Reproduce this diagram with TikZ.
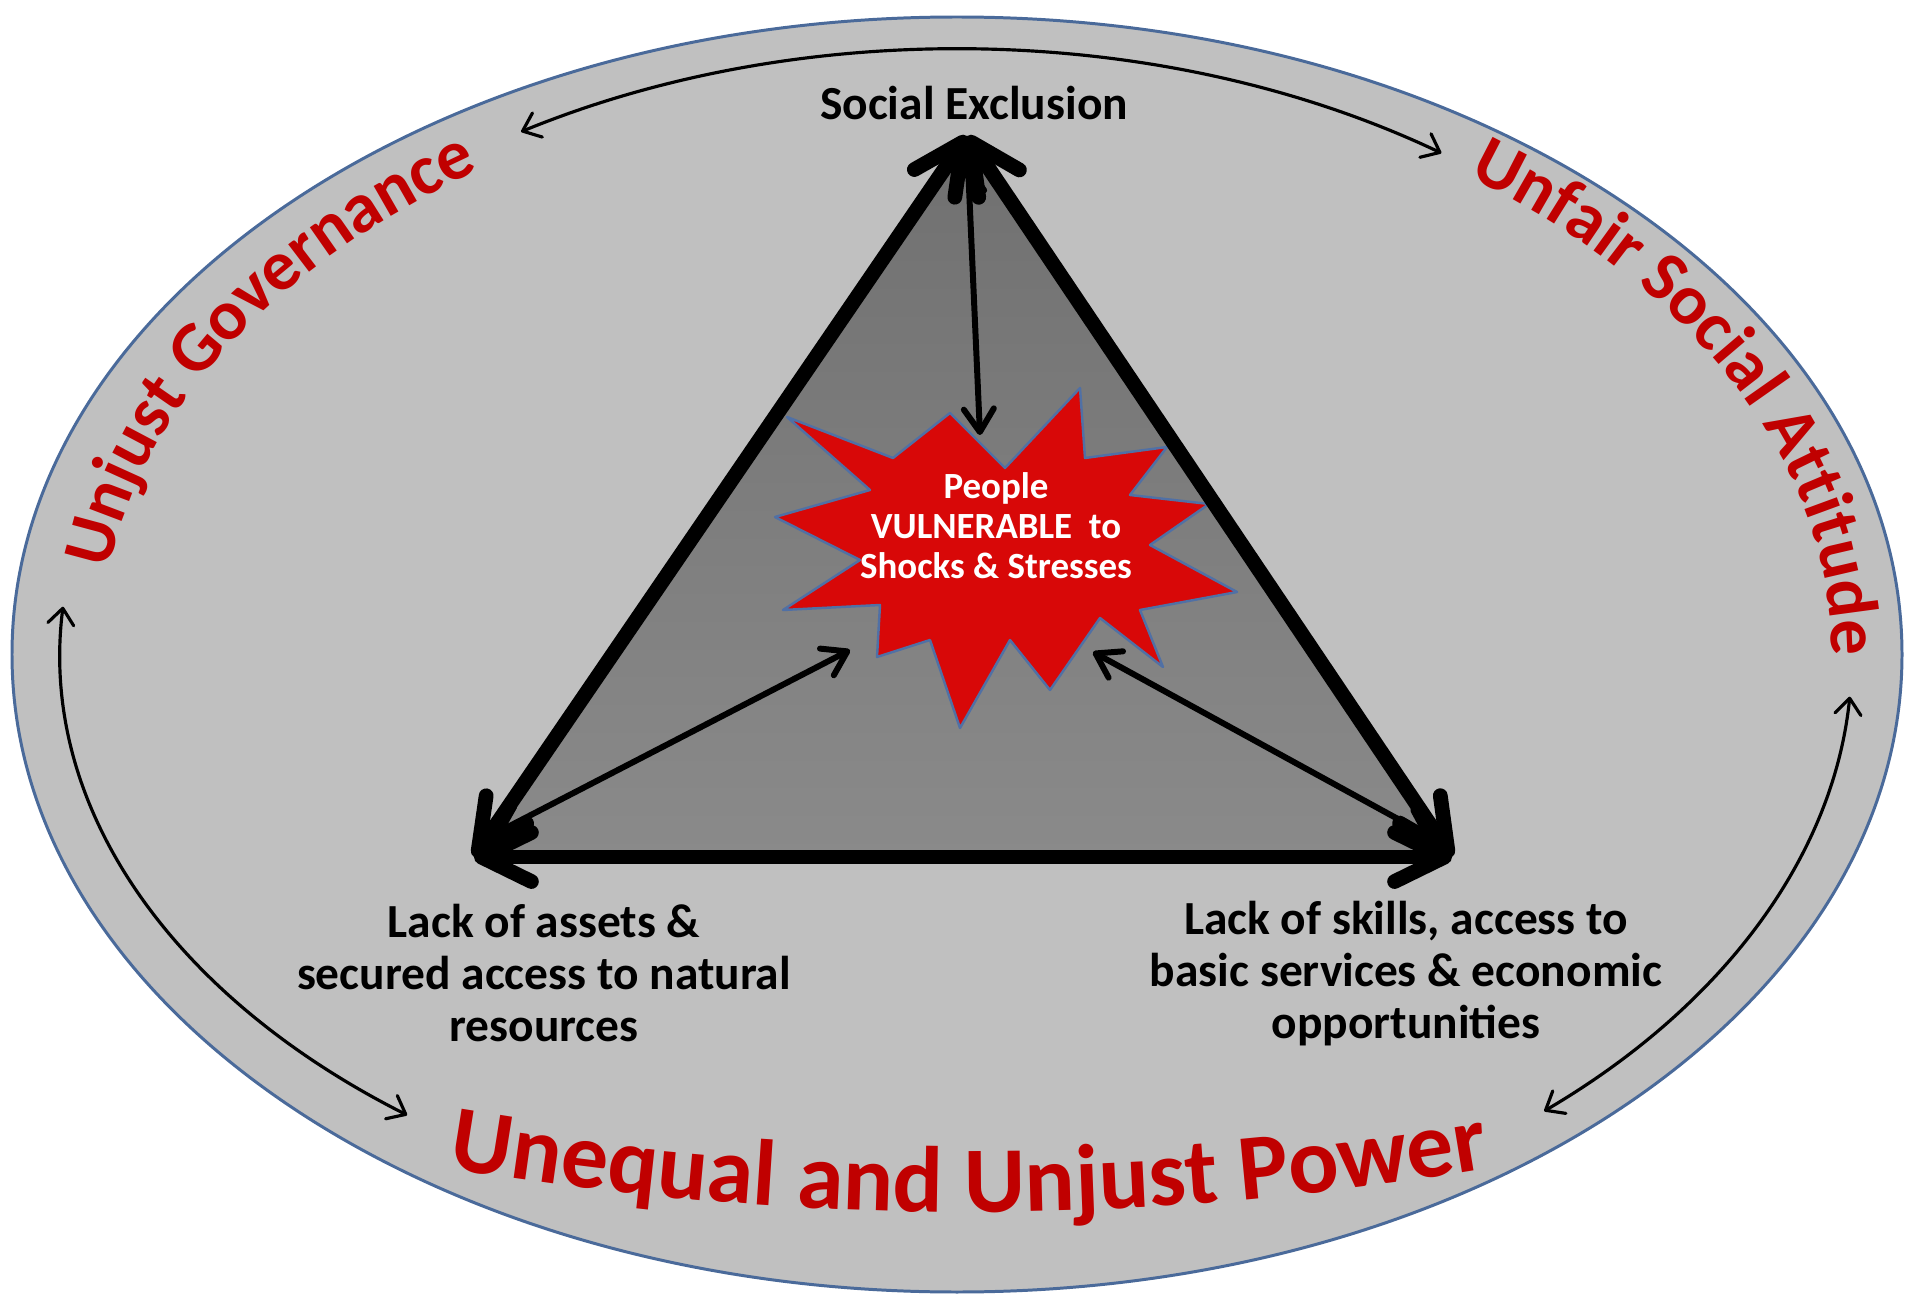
\documentclass[tikz,border=0pt]{standalone}
\usepackage{fontspec}
\setmainfont{Carlito}
\usetikzlibrary{arrows.meta,decorations.text}
\definecolor{ringfill}{RGB}{192,192,192}
\definecolor{ringline}{RGB}{74,106,154}
\definecolor{trifilltop}{RGB}{112,112,112}
\definecolor{trifillbot}{RGB}{138,138,138}
\definecolor{starred}{RGB}{216,8,8}
\definecolor{starline}{RGB}{80,112,165}
\definecolor{wordred}{RGB}{192,0,0}
\newcommand\sidefont{\fontsize{20.2pt}{24pt}\selectfont\bfseries}
\newcommand\basefont{\fontsize{26.7pt}{32pt}\selectfont\bfseries}
\begin{document}
\begin{tikzpicture}[x=0.01cm,y=-0.01cm,
  triedge/.style={line width=4.2pt, {Straight Barb[length=5mm,width=4.9mm,round]}-{Straight Barb[length=5mm,width=4.9mm,round]}},
  innerarrow/.style={line width=1.7pt, {Straight Barb[length=2.3mm,width=3mm,round]}-{Straight Barb[length=2.3mm,width=3mm,round]}},
  ringarrow/.style={line width=0.9pt, {Straight Barb[length=1.6mm,width=2.6mm,round]}-{Straight Barb[length=1.6mm,width=2.6mm,round]}},
  captiontext/.style={font=\fontsize{13.5pt}{14.8pt}\selectfont\bfseries, align=center, inner sep=0pt, text=black},
  startext/.style={font=\fontsize{10.5pt}{11.4pt}\selectfont\bfseries, align=center, inner sep=0pt, text=white},
  starshape/.style={fill=starred, draw=starline, line width=0.7pt, line join=round},
  arcword/.style={decorate, decoration={text along path, text align=center, text color=wordred, text={#1}}}
]
\useasboundingbox (0,0) rectangle (1905,1294);
\fill[white] (0,0) rectangle (1905,1294);
% outer ring
\draw[draw=ringline, line width=0.85pt, fill=ringfill] (957,654.5) ellipse [x radius=945, y radius=637.5];
% ring arrows
\coordinate (ta) at (521.1,131.7);
\coordinate (la) at (63,606.7);
\coordinate (ra) at (1849.8,696.7);
\draw[ringarrow] (ta) arc[start angle=-120.3, end angle=-55.9, x radius=864, y radius=605.5];
\draw[ringarrow] (la) arc[start angle=-175.3, end angle=-232.2, x radius=897, y radius=583];
\draw[ringarrow] (ra) arc[start angle=4, end angle=49, x radius=895, y radius=605];
% curved words
\path[arcword={|\sidefont|Unjust Governance}] (109.1,731.2) arc[start angle=-188, end angle=-112.2, x radius=853, y radius=578];
\path[arcword={|\sidefont|Unfair Social Attitude}] (1302.4,113.4) arc[start angle=-66.7, end angle=17.1, x radius=876, y radius=589];
\path[arcword={|\basefont|Unequal and Unjust Power}] (267.6,1132.1) arc[start angle=103, end angle=77, radius=3118];
% triangle
\coordinate (A) at (967,136);
\coordinate (BL) at (474,857);
\coordinate (BR) at (1452,857);
\shade[top color=trifilltop, bottom color=trifillbot] (A) -- (BL) -- (BR) -- cycle;
% star
\filldraw[starshape] (787,417) -- (893,458) -- (950,413) -- (1005,468) -- (1080,388) -- (1085,458) -- (1167,447) -- (1130,495) -- (1209,504) -- (1150,545) -- (1237,592) -- (1140,610) -- (1163,667) -- (1100,618) -- (1050,690) -- (1010,640) -- (960,728) -- (930,640) -- (877,657) -- (880,605) -- (783,610) -- (860,560) -- (775,517) -- (870,490) -- cycle;
\node[startext, anchor=north] (core) at (996,472) {People\\VULNERABLE\ \ to\\Shocks \& Stresses};
% inner arrows
\coordinate (a1) at (968,165);
\coordinate (a2) at (980,435);
\coordinate (b1) at (498,832);
\coordinate (b2) at (850,650);
\coordinate (c1) at (1429,836);
\coordinate (c2) at (1093,652);
\draw[innerarrow] (a1) -- (a2);
\draw[innerarrow] (b1) -- (b2);
\draw[innerarrow] (c1) -- (c2);
% triangle edges
\draw[triedge] (A) -- (BL);
\draw[triedge] (A) -- (BR);
\draw[triedge] (BL) -- (BR);
% labels
\node[captiontext, anchor=base] (soc) at (974,120) {Social Exclusion};
\node[captiontext, anchor=north] (assets) at (544,903) {Lack of assets \&\\secured access to natural\\resources};
\node[captiontext, anchor=north] (skills) at (1406,900) {Lack of skills, access to\\basic services \& economic\\opportunities};
\end{tikzpicture}
\end{document}
